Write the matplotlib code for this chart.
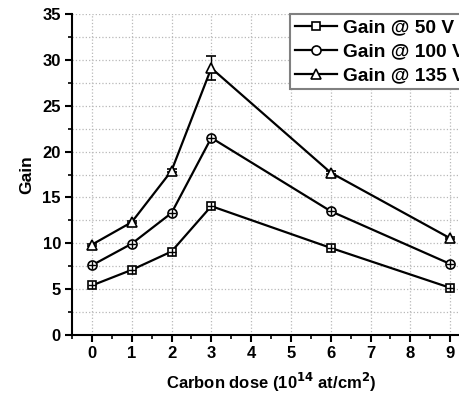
import matplotlib.pyplot as plt
from matplotlib.ticker import MultipleLocator

plt.rcParams['font.family'] = ['Liberation Sans', 'DejaVu Sans']
plt.rcParams['font.weight'] = 'bold'

dose = [0, 1, 2, 3, 6, 9]
gain_50 = [5.4, 7.1, 9.1, 14.05, 9.5, 5.15]
gain_100 = [7.6, 9.95, 13.3, 21.5, 13.5, 7.75]
gain_135 = [9.85, 12.3, 17.9, 29.1, 17.7, 10.55]
err_135 = [0.1, 0.1, 0.15, 1.3, 0.15, 0.1]

fig = plt.figure(figsize=(4.59, 3.94), dpi=100)
ax = fig.add_axes([72 / 459, 59 / 394, 398 / 459, 321 / 394])

lw = 1.6
l50, = ax.plot(dose, gain_50, '-s', color='black', lw=lw, ms=6, mfc='white', mew=1.2, label='Gain @ 50 V', zorder=3)
ax.plot(dose, gain_50, '+', color='black', ms=5.5, mew=1, zorder=4)
l100, = ax.plot(dose, gain_100, '-o', color='black', lw=lw, ms=6.5, mfc='white', mew=1.2, label='Gain @ 100 V', zorder=3)
ax.plot(dose, gain_100, '+', color='black', ms=6, mew=1, zorder=4)
eb = ax.errorbar(dose, gain_135, yerr=err_135, fmt='-^', color='black', lw=lw, ms=7, mfc='white', mew=1.2,
                 elinewidth=1, capsize=3.5, label='Gain @ 135 V', zorder=3)

ax.set_xlim(-0.5, 9.5)
ax.set_ylim(0, 35)
ax.xaxis.set_major_locator(MultipleLocator(1))
ax.xaxis.set_minor_locator(MultipleLocator(0.5))
ax.yaxis.set_major_locator(MultipleLocator(5))
ax.yaxis.set_minor_locator(MultipleLocator(2.5))

ax.grid(True, which='major', color='#b8b8b8', ls=':', lw=0.9)
ax.grid(True, which='minor', axis='y', color='#b8b8b8', ls=':', lw=0.9)

for s in ['top', 'right']:
    ax.spines[s].set_visible(False)
for s in ['left', 'bottom']:
    ax.spines[s].set_linewidth(1.5)

ax.tick_params(which='major', direction='out', length=5, width=1.5, labelsize=12, pad=3)
ax.tick_params(which='minor', direction='out', length=3, width=1.2)
for lab in ax.get_xticklabels() + ax.get_yticklabels():
    lab.set_fontweight('bold')

ax.set_xlabel('Carbon dose (10$^{\\mathbf{14}}$ at/cm$^{\\mathbf{2}}$)', fontsize=12, fontweight='bold', labelpad=7)
ax.set_ylabel('Gain', fontsize=12.5, fontweight='bold', labelpad=6)

leg = ax.legend([l50, l100, eb[0]], ['Gain @ 50 V', 'Gain @ 100 V', 'Gain @ 135 V'],
                loc='upper left', bbox_to_anchor=(0.548, 1.0), borderaxespad=0, fancybox=False,
                edgecolor='#808080', framealpha=1, prop={'size': 13.8, 'weight': 'bold'},
                handlelength=2.2, handletextpad=0.3, labelspacing=0.35, borderpad=0.25)
leg.get_frame().set_linewidth(1.5)

fig.savefig('out.png', dpi=100)
